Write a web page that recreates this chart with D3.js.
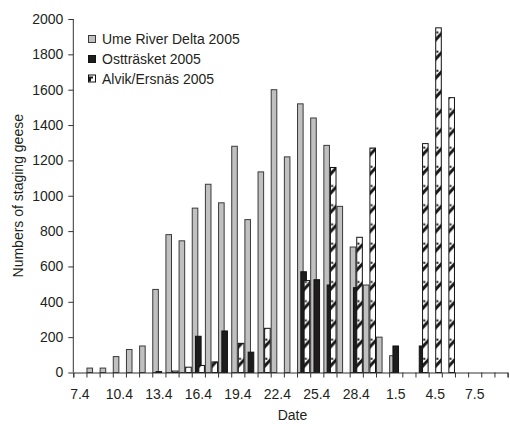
<!DOCTYPE html>
<html>
<head>
<meta charset="utf-8">
<script src="https://cdn.jsdelivr.net/npm/d3@7"></script>
<style>
  html, body { margin: 0; padding: 0; background: #fff; }
  svg text { font-family: "Liberation Sans", Arial, sans-serif; fill: #231f20; }
</style>
</head>
<body>
<svg id="chart" width="510" height="424"></svg>
<script>
// Daily counts of staging geese, spring 2005
const dates = ["7.4","8.4","9.4","10.4","11.4","12.4","13.4","14.4","15.4","16.4","17.4","18.4",
  "19.4","20.4","21.4","22.4","23.4","24.4","25.4","26.4","27.4","28.4","29.4","30.4",
  "1.5","2.5","3.5","4.5","5.5","6.5","7.5","8.5","9.5"];
const tickLabels = ["7.4","10.4","13.4","16.4","19.4","22.4","25.4","28.4","1.5","4.5","7.5"];
const seriesNames = ["Ume River Delta 2005", "Ostträsket 2005", "Alvik/Ersnäs 2005"];
const ume = [0,25,25,90,130,150,470,780,745,930,1065,960,1280,865,1135,1600,1220,1520,1440,1285,940,710,495,200,95,0,0,0,0,0,0,0,0];
const ost = [0,0,0,0,0,0,5,0,0,205,0,235,0,115,0,0,0,570,525,495,0,480,0,0,150,0,150,0,0,0,0,0,0];
const alv = [0,0,0,0,0,0,0,8,30,40,60,0,165,0,250,0,0,520,0,1160,0,765,1270,0,0,0,1295,1950,1555,0,0,0,0];
const yTicks = [0,200,400,600,800,1000,1200,1400,1600,1800,2000];

const svg = d3.select("#chart");
const x0 = 73.3, x1 = 507.6, yBase = 372.5, yTop = 19;

const x = d3.scaleBand().domain(dates).range([x0, x1]).paddingInner(0).paddingOuter(0);
const y = d3.scaleLinear().domain([0, 2000]).range([yBase, yTop]);
const bw = x.bandwidth();
const barW = bw / 2;          // overlapping bars, half a category wide
const step = bw / 4;          // shift between series inside a category

// Hatched fill for Alvik/Ersnäs, tiled once per category so each bar gets the same marks
const defs = svg.append("defs");
const pat = defs.append("pattern")
  .attr("id", "hatch")
  .attr("patternUnits", "userSpaceOnUse")
  .attr("x", x0 + 2 * step).attr("y", yBase)
  .attr("width", bw).attr("height", 19.2);
pat.append("rect").attr("width", bw).attr("height", 19.2).attr("fill", "#fff");
pat.append("polygon")
  .attr("points", [[0, 11], [barW, 4], [barW, 8.5], [0, 15.5]].map(p => p.join(",")).join(" "))
  .attr("fill", "#1a1a1a");
pat.append("rect").attr("x", 1.2).attr("y", 4.5).attr("width", 2).attr("height", 2).attr("fill", "#1a1a1a");

const series = [
  { values: ume, fill: "#c0c0c0", stroke: "#3a3a3a" },
  { values: ost, fill: "#1e1c1d", stroke: "#111" },
  { values: alv, fill: "url(#hatch)", stroke: "#111" }
];

// Bars: drawn series by series so later series sit on top
series.forEach((s, i) => {
  svg.append("g")
    .selectAll("rect")
    .data(dates.map((d, j) => ({ d, v: s.values[j] })).filter(e => e.v > 0))
    .join("rect")
      .attr("x", e => x(e.d) + i * step + 0.5)
      .attr("y", e => y(e.v))
      .attr("width", barW - 1)
      .attr("height", e => yBase - y(e.v))
      .attr("fill", s.fill)
      .attr("stroke", s.stroke)
      .attr("stroke-width", 1);
});

// Y axis
const yAxis = svg.append("g")
  .attr("transform", `translate(${x0},0)`)
  .call(d3.axisLeft(y).tickValues(yTicks).tickFormat(d3.format("d")).tickSize(5).tickPadding(5));
yAxis.select(".domain").remove();
yAxis.append("line").attr("x1", 0).attr("x2", 0).attr("y1", yTop).attr("y2", yBase).attr("stroke", "#333");
yAxis.selectAll(".tick line").attr("stroke", "#333");
yAxis.selectAll(".tick text").attr("font-size", 14).style("font-family", "Liberation Sans, Arial, sans-serif");

// X axis: boundary ticks between categories
const xIdx = d3.scaleLinear().domain([0, dates.length]).range([x0, x1]);
const xTicks = svg.append("g")
  .attr("transform", `translate(0,${yBase})`)
  .call(d3.axisBottom(xIdx).tickValues(d3.range(dates.length + 1)).tickFormat("").tickSize(5));
xTicks.select(".domain").attr("stroke", "#333");
xTicks.selectAll(".tick line").attr("stroke", "#333");

// X axis: date labels at category centres
const xLabels = svg.append("g")
  .attr("transform", `translate(0,${yBase})`)
  .call(d3.axisBottom(x).tickValues(tickLabels).tickSize(0).tickPadding(17));
xLabels.select(".domain").remove();
xLabels.selectAll(".tick text").attr("font-size", 14).style("font-family", "Liberation Sans, Arial, sans-serif");

// Axis titles
svg.append("text")
  .attr("x", (x0 + x1) / 2 + 2).attr("y", 420)
  .attr("text-anchor", "middle").attr("font-size", 14)
  .text("Date");
svg.append("text")
  .attr("transform", `translate(23,${(yTop + yBase) / 2}) rotate(-90)`)
  .attr("text-anchor", "middle").attr("font-size", 14)
  .text("Numbers of staging geese");

// Legend
const legend = svg.append("g").attr("transform", "translate(88,35)");
const legY = [0, 20, 39.5];
seriesNames.forEach((name, i) => {
  const g = legend.append("g").attr("transform", `translate(0,${legY[i]})`);
  if (i === 2) {
    g.append("rect").attr("x", 0.5).attr("y", 0.5).attr("width", 7).attr("height", 7)
      .attr("fill", "#fff").attr("stroke", "#111");
    g.append("polygon").attr("points", "1,2 5,2 5,4 3,4 3,7 1,7").attr("fill", "#1a1a1a");
  } else {
    g.append("rect").attr("x", 0.5).attr("y", 0.5).attr("width", 7).attr("height", 7)
      .attr("fill", series[i].fill).attr("stroke", series[i].stroke);
  }
  g.append("text").attr("x", 14).attr("y", 9).attr("font-size", 14).text(name);
});
</script>
</body>
</html>
